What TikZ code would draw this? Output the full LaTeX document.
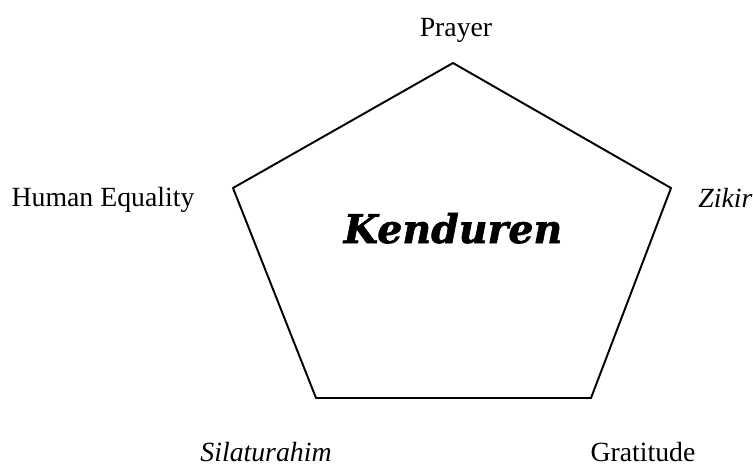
\documentclass[tikz,border=0pt]{standalone}
\usepackage{fontspec}
\setmainfont{Liberation Serif}
\newfontfamily\titlefont[BoldItalicFeatures={FakeBold=1.5}]{DejaVu Serif}
\usepackage{tikz}
\usetikzlibrary{positioning}
\tikzset{
    value/.style={
        inner sep=0pt, anchor=base,
        font=\fontsize{15.8}{19}\selectfont,
    },
    valueit/.style={
        value, font=\fontsize{15.8}{19}\selectfont\itshape,
    },
    title/.style={
        inner sep=0pt, anchor=base,
        font=\titlefont\bfseries\itshape\fontsize{22.5}{26}\selectfont,
    },
    side/.style={line width=1.1pt, draw=black, line join=miter},
}

\begin{document}
\begin{tikzpicture}[x=0.02cm, y=-0.02cm]

    \useasboundingbox (0,0) rectangle (753,468);

    % corners of the pentagon
    \coordinate (top) at (453,63);
    \coordinate (right) at (671,188);
    \coordinate (bright) at (591,398);
    \coordinate (bleft) at (316,398);
    \coordinate (left) at (233,188);

    \draw[side] (top) -- (right) -- (bright) -- (bleft) -- (left) -- cycle;

    \node[title] (kenduren) at (453,243) {Kenduren};

    \node[value] (prayer) at (456,36) {Prayer};
    \node[value] (equality) at (103,206) {Human Equality};
    \node[valueit, anchor=base west] (zikir) at (698,207) {Zikir};
    \node[valueit] (silaturahim) at (266,461) {Silaturahim};
    \node[value] (gratitude) at (643,461) {Gratitude};

\end{tikzpicture}
\end{document}
